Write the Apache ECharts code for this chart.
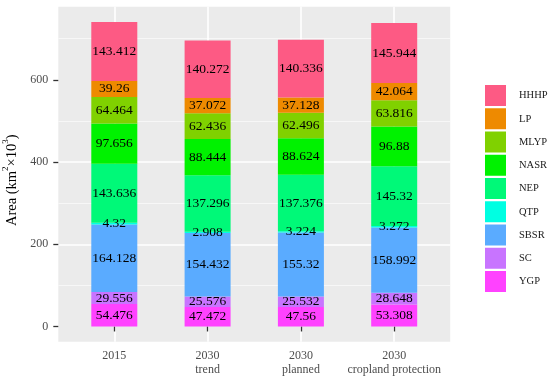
<!DOCTYPE html>
<html>
<head>
<meta charset="utf-8">
<script src="https://cdn.jsdelivr.net/npm/echarts@6/dist/echarts.min.js"></script>
<style>html,body{margin:0;padding:0;background:#fff;}#c{width:550px;height:380px;}</style>
</head>
<body>
<div id="c"></div>
<script>
const categories = ['2015', '2030\ntrend', '2030\nplanned', '2030\ncropland protection'];
// stacking order bottom -> top
const regions = ['YGP', 'SC', 'SBSR', 'QTP', 'NEP', 'NASR', 'MLYP', 'LP', 'HHHP'];
const YGP  = [54.476, 47.472, 47.56, 53.308];
const SC   = [29.556, 25.576, 25.532, 28.648];
const SBSR = [164.128, 154.432, 155.32, 158.992];
const QTP  = [4.32, 2.908, 3.224, 3.272];
const NEP  = [143.636, 137.296, 137.376, 145.32];
const NASR = [97.656, 88.444, 88.624, 96.88];
const MLYP = [64.464, 62.436, 62.496, 63.816];
const LP   = [39.26, 37.072, 37.128, 42.064];
const HHHP = [143.412, 140.272, 140.336, 145.944];
const yTicks = [0, 200, 400, 600];
const yMinorOffset = 100; // minor gridlines sit halfway between major ticks

const values = {YGP, SC, SBSR, QTP, NEP, NASR, MLYP, LP, HHHP};
const colors = {
  HHHP: '#FD5A84', LP: '#EE8A00', MLYP: '#80D100', NASR: '#00F200',
  NEP: '#00F978', QTP: '#00FFE2', SBSR: '#5AABFF', SC: '#C874FF', YGP: '#FF42FF'
};

const totals = categories.map((c, i) => regions.reduce((s, r) => s + values[r][i], 0));
const maxT = Math.max(...totals);
const yMin = -0.05 * maxT, yMax = maxT * 1.05;

const serif = '"Liberation Serif", "DejaVu Serif", serif';
const chart = echarts.init(document.getElementById('c'));
const series = regions.map(r => ({
  name: r, type: 'bar', stack: 'total', xAxisIndex: 1, yAxisIndex: 2,
  data: values[r], barWidth: 46, clip: false,
  itemStyle: { color: colors[r] },
  label: { show: true, position: 'inside', color: '#000', fontFamily: serif, fontSize: 13.5,
           formatter: p => String(p.value) },
  emphasis: { disabled: true }
}));

chart.setOption({
  animation: false,
  grid: [
    { left: 58.3, width: 391.9, top: 6.7, bottom: 38.3, show: true, backgroundColor: '#EBEBEB', borderWidth: 0, outerBoundsMode: 'none', containLabel: false },
    { left: 114.3, width: 279.9, top: 6.7, bottom: 38.3, show: false, outerBoundsMode: 'none', containLabel: false }
  ],
  xAxis: [
    { gridIndex: 0, type: 'value', show: false },
    { gridIndex: 1, type: 'category', data: categories, boundaryGap: false,
      axisLine: { show: false },
      axisTick: { show: true, length: 5, lineStyle: { color: '#333', width: 1.3 } },
      axisLabel: { margin: 7, color: '#4D4D4D', fontFamily: serif, fontSize: 12, lineHeight: 14, interval: 0 },
      splitLine: { show: true, lineStyle: { color: '#fff', width: 1.6 } } }
  ],
  yAxis: [
    { gridIndex: 0, type: 'value', min: yMin, max: yMax,
      name: '{t|Area (km}{s|2}{t|×10}{s|3}{t|)}', nameLocation: 'middle', nameGap: 37,
      nameTextStyle: { color: '#000', fontFamily: serif, fontSize: 14, padding: [0, 12, 0, 0],
        rich: {
          t: { fontFamily: serif, fontSize: 14.5, color: '#000', verticalAlign: 'bottom', lineHeight: 18 },
          s: { fontFamily: serif, fontSize: 9, color: '#000', verticalAlign: 'top', lineHeight: 18 }
        } },
      axisLine: { show: false },
      axisTick: { show: true, length: 5, customValues: yTicks, lineStyle: { color: '#333', width: 1.3 } },
      axisLabel: { margin: 10, customValues: yTicks, color: '#4D4D4D', fontFamily: serif, fontSize: 12 },
      splitLine: { show: true, showMinLine: false, showMaxLine: false, lineStyle: { color: '#fff', width: 1.6 } } },
    // hidden helper axis shifted by half a major step: its auto ticks fall on the minor break positions
    { gridIndex: 0, type: 'value', min: yMin + yMinorOffset, max: yMax + yMinorOffset, splitNumber: 4,
      axisLine: { show: false }, axisTick: { show: false }, axisLabel: { show: false },
      splitLine: { show: true, showMinLine: false, showMaxLine: false, lineStyle: { color: '#F7F7F7', width: 1 } } },
    { gridIndex: 1, type: 'value', min: yMin, max: yMax, show: false, splitLine: { show: false } }
  ],
  legend: {
    orient: 'vertical', left: 485, top: 85, padding: 0,
    itemWidth: 21, itemHeight: 21, itemGap: 2.25,
    icon: 'rect',
    data: regions.slice().reverse(),
    textStyle: { color: '#1a1a1a', fontFamily: serif, fontSize: 10.5, padding: [0, 0, 0, 8] },
    selectedMode: false
  },
  series: series
});
</script>
</body>
</html>
